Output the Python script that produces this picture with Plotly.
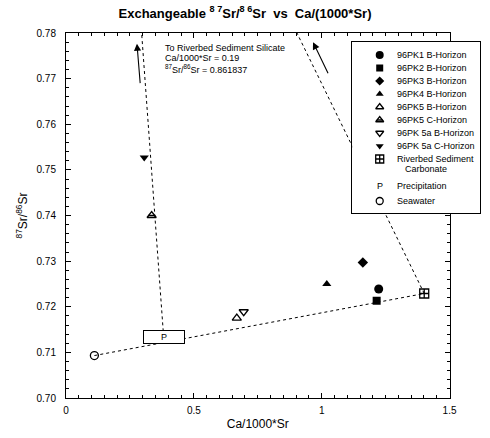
import plotly.graph_objects as go

# ---------------- data ----------------
sample_labels = ["96PK1 B-Horizon", "96PK2 B-Horizon", "96PK3 B-Horizon",
                 "96PK4 B-Horizon", "96PK5 B-Horizon", "96PK5 C-Horizon",
                 "96PK 5a B-Horizon", "96PK 5a C-Horizon",
                 "Riverbed Sediment Carbonate", "Precipitation", "Seawater"]
ca_sr = [1.223, 1.215, 1.161, 1.020, 0.668, 0.335, 0.695, 0.306, 1.401, 0.382, 0.111]
sr_ratio = [0.7239, 0.7213, 0.7297, 0.7250, 0.7175, 0.7400, 0.7189, 0.7527, 0.7229, 0.7133, 0.7093]

silicate_ca_sr = 0.19
silicate_ratio = 0.861837

x_ticks = [0, 0.5, 1, 1.5]
x_tick_text = ["0", "0.5", "1", "1.5"]
y_ticks = [0.70, 0.71, 0.72, 0.73, 0.74, 0.75, 0.76, 0.77, 0.78]
y_tick_text = ["0.70", "0.71", "0.72", "0.73", "0.74", "0.75", "0.76", "0.77", "0.78"]

# arrows toward the silicate end-member (tail -> head)
arrow_tail_x = [0.2906, 1.0277]
arrow_tail_y = [0.76868, 0.77087]
arrow_head_x = [0.2775, 0.9661]
arrow_head_y = [0.77766, 0.77799]

# ---------------- styles ----------------
FONT = "Liberation Sans, Arial, sans-serif"
symbols = ["circle", "square", "diamond", "triangle-up", "triangle-up-open",
           "triangle-up-open", "triangle-down-open", "triangle-down",
           "square-cross-open", None, "circle-open"]
sizes = [9, 8, 8, 8, 8, 8, 8, 8, 9, 0, 8]
striped = "96PK5 C-Horizon"

W, H = 490, 438
ML, MR, MT, MB = 66, 2, 33, 40
plot_right = 456
paper_w = W - ML - MR
paper_h = H - MT - MB

fig = go.Figure()

idx_sw = sample_labels.index("Seawater")
idx_cb = sample_labels.index("Riverbed Sediment Carbonate")
idx_p = sample_labels.index("Precipitation")

dash_line = dict(color="black", width=1, dash="3px,3px")
fig.add_trace(go.Scatter(x=[ca_sr[idx_sw], ca_sr[idx_cb]], y=[sr_ratio[idx_sw], sr_ratio[idx_cb]],
                         mode="lines", line=dash_line, hoverinfo="skip", showlegend=False))
fig.add_trace(go.Scatter(x=[ca_sr[idx_p], silicate_ca_sr], y=[sr_ratio[idx_p], silicate_ratio],
                         mode="lines", line=dash_line, hoverinfo="skip", showlegend=False))
fig.add_trace(go.Scatter(x=[ca_sr[idx_cb], silicate_ca_sr], y=[sr_ratio[idx_cb], silicate_ratio],
                         mode="lines", line=dash_line, hoverinfo="skip", showlegend=False))


def add_symbol(xv, yv, i, axes, shrink=0):
    open_sym = symbols[i].endswith("open")
    fig.add_trace(go.Scatter(
        x=xv, y=yv, xaxis=axes[0], yaxis=axes[1], mode="markers", showlegend=False,
        name=sample_labels[i],
        marker=dict(symbol=symbols[i], size=sizes[i] - shrink, color="black",
                    line=dict(color="black", width=1.3 if open_sym else 0))))
    if sample_labels[i] == striped:
        fig.add_trace(go.Scatter(
            x=xv, y=yv, xaxis=axes[0], yaxis=axes[1], mode="markers", showlegend=False,
            hoverinfo="skip",
            marker=dict(symbol="line-ew", size=sizes[i] - 3 - shrink, color="black",
                        line=dict(color="black", width=1.6))))


for i, lab in enumerate(sample_labels):
    if symbols[i] is None:
        continue
    add_symbol([ca_sr[i]], [sr_ratio[i]], i, ("x", "y"))

# Precipitation box "P"
fig.add_annotation(x=ca_sr[idx_p], y=sr_ratio[idx_p], xref="x", yref="y", text="P",
                   showarrow=False, font=dict(family=FONT, size=9, color="black"),
                   bgcolor="white", bordercolor="black", borderwidth=1, borderpad=1,
                   width=38, height=10)

for tx, ty, hx, hy in zip(arrow_tail_x, arrow_tail_y, arrow_head_x, arrow_head_y):
    fig.add_annotation(x=hx, y=hy, ax=tx, ay=ty, xref="x", yref="y", axref="x", ayref="y",
                       text="", showarrow=True, arrowhead=2, arrowsize=1.3, arrowwidth=1.1,
                       arrowcolor="black")

note_lines = ["To Riverbed Sediment Silicate",
              "Ca/1000*Sr = %.2f" % silicate_ca_sr,
              "<sup>87</sup>Sr/<sup>86</sup>Sr = %s" % "0.861837"]
note_px = [47.5, 57.5, 68.5]
for k, txt in enumerate(note_lines):
    fig.add_annotation(x=(165 - ML) / paper_w, y=(H - MB - note_px[k]) / paper_h,
                       xref="paper", yref="paper", text=txt, showarrow=False,
                       xanchor="left", yanchor="middle", align="left",
                       font=dict(family=FONT, size=9, color="black"))

# ---------------- legend (own small subplot) ----------------
leg_left, leg_right, leg_top, leg_bot = 357, 487, 42, 213
leg_rows = [13, 26, 39, 52, 65, 78, 91, 104, 117, 144, 159]
leg_sym_x = 28
leg_txt_x = 44
for i, lab in enumerate(sample_labels):
    if symbols[i] is not None:
        add_symbol([leg_sym_x], [leg_rows[i]], i, ("x2", "y2"), shrink=1)

leg_text = []
leg_tx = []
leg_ty = []
for i, lab in enumerate(sample_labels):
    if lab == "Riverbed Sediment Carbonate":
        leg_text += ["Riverbed Sediment", "Carbonate"]
        leg_tx += [leg_txt_x, leg_txt_x + 8]
        leg_ty += [leg_rows[i], leg_rows[i] + 10]
    else:
        leg_text.append(lab)
        leg_tx.append(leg_txt_x)
        leg_ty.append(leg_rows[i])
for t, tx, ty in zip(leg_text, leg_tx, leg_ty):
    fig.add_annotation(x=tx, y=ty, xref="x2", yref="y2", text=t, showarrow=False,
                       xanchor="left", yanchor="middle",
                       font=dict(family=FONT, size=9, color="black"))
fig.add_annotation(x=leg_sym_x, y=leg_rows[idx_p], xref="x2", yref="y2", text="P",
                   showarrow=False, xanchor="center", yanchor="middle",
                   font=dict(family=FONT, size=9, color="black"))

axis_common = dict(showgrid=False, zeroline=False, showline=True, linecolor="black",
                   linewidth=1, mirror="allticks", ticks="inside", color="black",
                   tickfont=dict(family=FONT, size=10, color="black"))

fig.update_layout(
    width=W, height=H, margin=dict(l=ML, r=MR, t=MT, b=MB),
    paper_bgcolor="white", plot_bgcolor="white", showlegend=False,
    font=dict(family=FONT, color="black"),
    title=dict(text="<b>Exchangeable <sup>8 7</sup>Sr/<sup>8 6</sup>Sr  vs  Ca/(1000*Sr)</b>",
               x=0.5, xref="container", xanchor="center",
               y=1 - 13 / H, yref="container", yanchor="middle",
               font=dict(family=FONT, size=13, color="black")),
    xaxis=dict(domain=[0, (plot_right - ML) / paper_w], range=[0, 1.5],
               tickvals=x_ticks, ticktext=x_tick_text, ticklen=5,
               minor=dict(dtick=0.05, ticklen=3, ticks="inside", showgrid=False),
               ticklabelstandoff=3,
               title=dict(text="Ca/1000*Sr", standoff=4,
                          font=dict(family=FONT, size=12, color="black")),
               **axis_common),
    yaxis=dict(domain=[0, 1], range=[0.70, 0.78],
               tickvals=y_ticks, ticktext=y_tick_text, ticklen=5,
               minor=dict(dtick=0.002, ticklen=3, ticks="inside", showgrid=False),
               ticklabelstandoff=7,
               title=dict(text="<sup>87</sup>Sr/<sup>86</sup>Sr", standoff=6,
                          font=dict(family=FONT, size=12, color="black")),
               **axis_common),
    xaxis2=dict(domain=[(leg_left - ML) / paper_w, (leg_right - ML) / paper_w],
                range=[0, leg_right - leg_left], anchor="y2",
                showgrid=False, zeroline=False, showline=True, mirror=True,
                linecolor="black", linewidth=1, showticklabels=False, ticks="",
                fixedrange=True),
    yaxis2=dict(domain=[(H - MB - leg_bot) / paper_h, (H - MB - leg_top) / paper_h],
                range=[leg_bot - leg_top, 0], anchor="x2",
                showgrid=False, zeroline=False, showline=True, mirror=True,
                linecolor="black", linewidth=1, showticklabels=False, ticks="",
                fixedrange=True),
)

fig.write_html("out.html", config={"displayModeBar": False},
               post_script="document.body.style.margin='0';")
